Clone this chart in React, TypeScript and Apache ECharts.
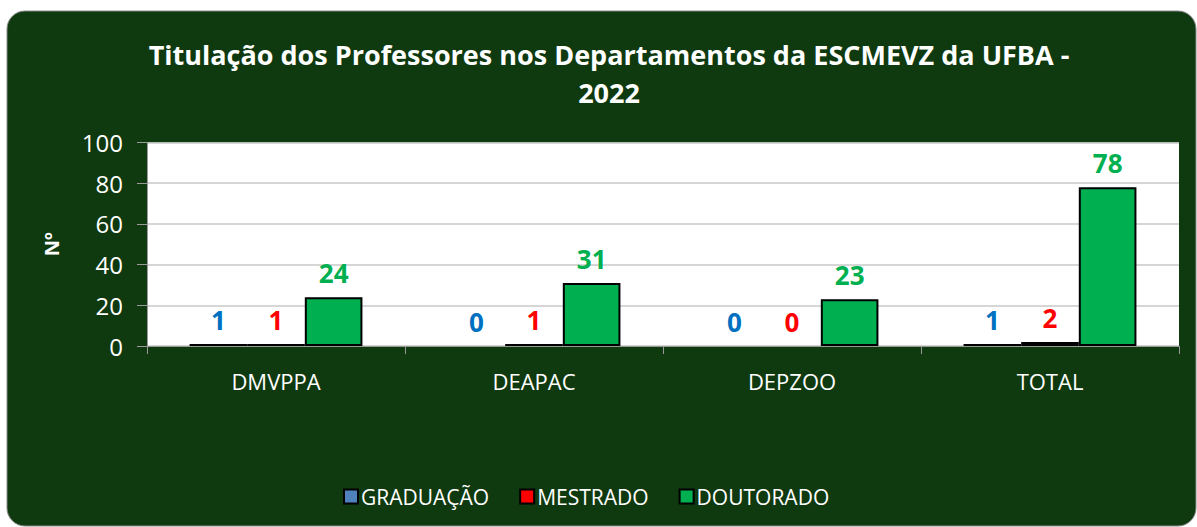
import React, { useEffect, useRef } from "react";
import * as echarts from "echarts";

const categories = ["DMVPPA", "DEAPAC", "DEPZOO", "TOTAL"];
const graduacao = [1, 0, 0, 1];
const mestrado = [1, 1, 0, 2];
const doutorado = [24, 31, 23, 78];
const yTicks = [0, 20, 40, 60, 80, 100];

const FONT = "'Open Sans', sans-serif";

export default function App() {
  const ref = useRef<HTMLDivElement>(null);
  useEffect(() => {
    if (!ref.current) return;
    const chart = echarts.init(ref.current, null, { renderer: "svg" });
    const labelStyle = (color: string) => ({
      show: true,
      position: "top" as const,
      distance: 11,
      color,
      fontFamily: FONT,
      fontWeight: "bold" as const,
      fontSize: 26,
    });
    const withZeroBorder = (vals: number[]) =>
      vals.map((v) => (v === 0 ? { value: v, itemStyle: { borderWidth: 0 } } : v));
    chart.setOption({
      animation: false,
      backgroundColor: "transparent",
      graphic: [
        {
          type: "rect",
          z: -10,
          silent: true,
          shape: { x: 7, y: 11, width: 1189, height: 515, r: 18 },
          style: { fill: "#0f390f", stroke: "#8a8a8a", lineWidth: 1 },
        },
      ],
      title: {
        text: "Titulação dos Professores nos Departamentos da ESCMEVZ da UFBA -\n2022",
        left: 609,
        top: 35,
        padding: 0,
        textAlign: "center",
        textStyle: {
          color: "#ffffff",
          fontFamily: FONT,
          fontWeight: "bold",
          fontSize: 27,
          lineHeight: 38,
        },
      },
      legend: {
        data: ["GRADUAÇÃO", "MESTRADO", "DOUTORADO"],
        left: 338,
        top: 481,
        itemWidth: 14,
        itemHeight: 14,
        itemGap: 30,
        icon: "rect",
        textStyle: { color: "#ffffff", fontFamily: FONT, fontSize: 21, padding: [0, 0, 0, -2] },
      },
      grid: {
        left: 147,
        right: 18,
        top: 142.5,
        bottom: 181,
        show: true,
        backgroundColor: "#ffffff",
        borderWidth: 0,
      },
      xAxis: {
        type: "category",
        data: categories,
        axisLine: { show: true, lineStyle: { color: "#9a9a9a", width: 1 } },
        axisTick: { show: true, length: 8, lineStyle: { color: "#9a9a9a" } },
        axisLabel: { color: "#ffffff", fontFamily: FONT, fontSize: 22, margin: 24 },
      },
      yAxis: {
        type: "value",
        min: 0,
        max: yTicks[yTicks.length - 1],
        interval: 20,
        name: "Nº",
        nameLocation: "middle",
        nameRotate: 90,
        nameGap: 86,
        nameTextStyle: { color: "#ffffff", fontFamily: FONT, fontWeight: "bold", fontSize: 20 },
        axisLine: { show: true, lineStyle: { color: "#9a9a9a", width: 1 } },
        axisTick: { show: true, length: 10, lineStyle: { color: "#9a9a9a" } },
        axisLabel: { color: "#ffffff", fontFamily: FONT, fontSize: 24, margin: 24 },
        splitLine: { show: true, lineStyle: { color: "#c8c8c8", width: 1.5 } },
      },
      series: [
        {
          name: "GRADUAÇÃO",
          type: "bar",
          data: withZeroBorder(graduacao),
          barGap: "0%",
          barCategoryGap: "33%",
          itemStyle: { color: "#4f81bd", borderColor: "#000000", borderWidth: 2 },
          label: labelStyle("#0070c0"),
        },
        {
          name: "MESTRADO",
          type: "bar",
          data: withZeroBorder(mestrado),
          barGap: "0%",
          barCategoryGap: "33%",
          itemStyle: { color: "#ff0000", borderColor: "#000000", borderWidth: 2 },
          label: labelStyle("#ff0000"),
        },
        {
          name: "DOUTORADO",
          type: "bar",
          data: withZeroBorder(doutorado),
          barGap: "0%",
          barCategoryGap: "33%",
          itemStyle: { color: "#00b050", borderColor: "#000000", borderWidth: 2 },
          label: labelStyle("#00b050"),
        },
      ],
    });
    return () => chart.dispose();
  }, []);
  return (
    <div
      ref={ref}
      style={{ position: "absolute", left: 0, top: 0, width: 1197, height: 527 }}
    />
  );
}
